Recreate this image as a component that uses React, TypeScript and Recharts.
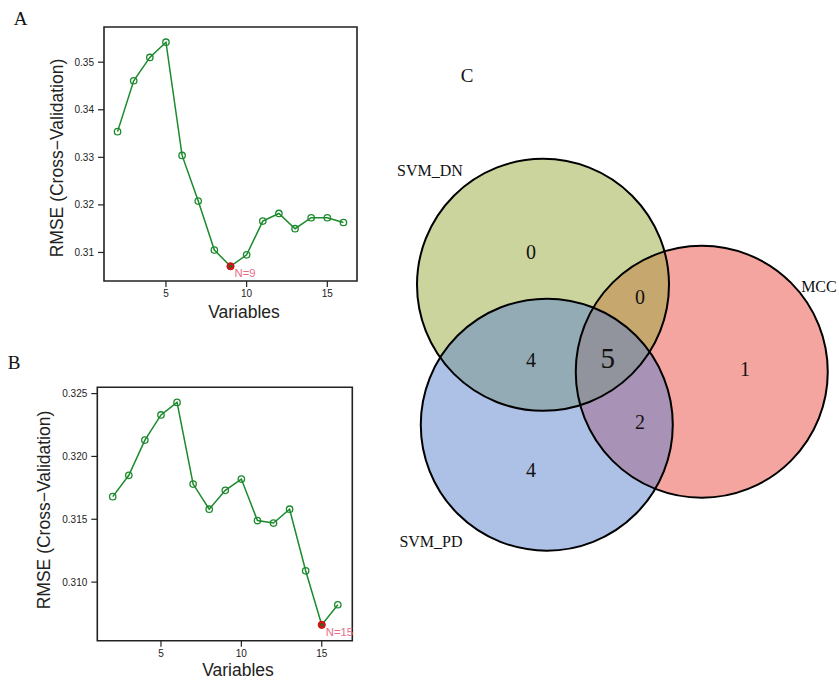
import {
  LineChart,
  Line,
  XAxis,
  YAxis,
  ReferenceArea,
  Label,
  ScatterChart,
  Scatter,
} from 'recharts';

// Panel A / B: RMSE of cross-validation vs number of variables
const variables = [2, 3, 4, 5, 6, 7, 8, 9, 10, 11, 12, 13, 14, 15, 16];
const rmseA = [
  0.3354, 0.3461, 0.351, 0.3542, 0.3304, 0.3208, 0.3105, 0.3071, 0.3095, 0.3166,
  0.3182, 0.315, 0.3173, 0.3173, 0.3163,
];
const rmseB = [
  0.3168, 0.3185, 0.3213, 0.3233, 0.3243, 0.3178, 0.3158, 0.3173, 0.3182, 0.3149,
  0.3147, 0.3158, 0.3109, 0.3066, 0.3082,
];
const yTicksA = [0.31, 0.32, 0.33, 0.34, 0.35];
const yTicksB = [0.31, 0.315, 0.32, 0.325];
const xTicks = [5, 10, 15];

// Panel C: Venn diagram (sets in drawing order)
const vennSets = ['MCC', 'SVM_DN', 'SVM_PD'];
const vennX = [1.26, 0, 0.03];
const vennY = [-0.69, 0, -1.11];
const vennR = [1, 1, 1];
const vennColors = ['#e94b41', '#97a939', '#5b81cd'];
const vennNameX = [2.19, -0.897, -0.889];
const vennNameY = [-0.01, 0.909, -2.04];
const regionSets = [
  'SVM_DN',
  'SVM_DN&MCC',
  'SVM_DN&SVM_PD',
  'SVM_DN&SVM_PD&MCC',
  'MCC',
  'SVM_PD&MCC',
  'SVM_PD',
];
const regionCounts = [0, 0, 4, 5, 1, 2, 4];
const regionX = [-0.095, 0.77, -0.095, 0.513, 1.603, 0.77, -0.095];
const regionY = [0.263, -0.1, -0.597, -0.583, -0.671, -1.091, -1.47];

const SANS = '"Liberation Sans", Arial, sans-serif';
const SERIF = '"Liberation Serif", "Times New Roman", serif';
const GREEN = '#1b8a2c';
const INK = '#222';

type PanelProps = {
  rmse: number[];
  yTicks: number[];
  yDomain: [number, number];
  xDomain: [number, number];
  digits: number;
  top: number;
  width: number;
  height: number;
  margin: { top: number; right: number; left: number; bottom: number };
  xAxisHeight: number;
  yLabelPos: [number, number];
  xLabelPos: [number, number];
};

const CvPanel = ({
  rmse,
  yTicks,
  yDomain,
  xDomain,
  digits,
  top,
  width,
  height,
  margin,
  xAxisHeight,
  yLabelPos,
  xLabelPos,
}: PanelProps) => {
  const data = variables.map((v, i) => ({ x: v, rmse: rmse[i] }));
  const best = rmse.indexOf(Math.min(...rmse));

  const renderDot = (p: any) => {
    const { cx, cy, index } = p;
    if (index === best) {
      return (
        <g key={`dot-${index}`}>
          <circle cx={cx} cy={cy} r={3.6} fill="#d01818" stroke="#c81010" strokeWidth={1} />
          <circle cx={cx} cy={cy} r={1.5} fill="#1b6f28" />
          <text
            x={cx + 4}
            y={cy + 7}
            fill="#ea6d86"
            fontSize={11.3}
            fontFamily={SANS}
            dominantBaseline="central"
          >
            {`N=${variables[best]}`}
          </text>
        </g>
      );
    }
    return (
      <circle
        key={`dot-${index}`}
        cx={cx}
        cy={cy}
        r={3.2}
        fill="none"
        stroke={GREEN}
        strokeWidth={1.3}
      />
    );
  };

  return (
    <div style={{ position: 'absolute', left: 0, top }}>
      <LineChart width={width} height={height} data={data} margin={margin}>
        <XAxis
          dataKey="x"
          type="number"
          domain={xDomain}
          ticks={xTicks}
          height={xAxisHeight}
          axisLine={false}
          tickLine={{ stroke: INK, strokeWidth: 1.2 }}
          tickSize={6}
          tickMargin={3}
          tick={{ fill: INK, fontSize: 10, fontFamily: SANS }}
        >
          <Label
            content={() => (
              <text
                x={xLabelPos[0]}
                y={xLabelPos[1]}
                textAnchor="middle"
                dominantBaseline="central"
                fontSize={17.5}
                fontFamily={SANS}
                fill={INK}
              >
                Variables
              </text>
            )}
          />
        </XAxis>
        <YAxis
          type="number"
          domain={yDomain}
          ticks={yTicks}
          width={60}
          axisLine={false}
          tickLine={{ stroke: INK, strokeWidth: 1.2 }}
          tickSize={6}
          tickMargin={4}
          tickFormatter={(v: number) => v.toFixed(digits)}
          tick={{ fill: INK, fontSize: 10, fontFamily: SANS }}
        >
          <Label
            content={() => (
              <text
                x={yLabelPos[0]}
                y={yLabelPos[1]}
                transform={`rotate(-90, ${yLabelPos[0]}, ${yLabelPos[1]})`}
                textAnchor="middle"
                dominantBaseline="central"
                fontSize={17.5}
                fontFamily={SANS}
                fill={INK}
              >
                RMSE (Cross−Validation)
              </text>
            )}
          />
        </YAxis>
        <ReferenceArea
          x1={xDomain[0]}
          x2={xDomain[1]}
          y1={yDomain[0]}
          y2={yDomain[1]}
          fill="none"
          stroke={INK}
          strokeWidth={1.6}
          ifOverflow="visible"
        />
        <Line
          type="linear"
          dataKey="rmse"
          stroke={GREEN}
          strokeWidth={1.5}
          dot={renderDot}
          activeDot={false}
          isAnimationActive={false}
        />
      </LineChart>
    </div>
  );
};

// Venn panel: 1 data unit = VPX pixels on both axes
const VPX = 126;
const vxDomain: [number, number] = [-1.4, 2.3];
const vyDomain: [number, number] = [-2.2, 1.2];
const V_W = 479;
const V_H = 520;
const vMargin = {
  left: 6.6,
  right: V_W - 6.6 - (vxDomain[1] - vxDomain[0]) * VPX,
  top: 73.6,
  bottom: V_H - 73.6 - (vyDomain[1] - vyDomain[0]) * VPX,
};

const VennPanel = () => {
  const circles = vennSets.map((name, i) => ({
    name,
    x: vennX[i],
    y: vennY[i],
    r: vennR[i],
    color: vennColors[i],
  }));
  const names = vennSets.map((name, i) => ({ name, x: vennNameX[i], y: vennNameY[i] }));
  const regions = regionSets.map((key, i) => ({
    key,
    count: regionCounts[i],
    x: regionX[i],
    y: regionY[i],
    depth: key.split('&').length,
  }));

  return (
    <div style={{ position: 'absolute', left: 360, top: 60 }}>
      <ScatterChart width={V_W} height={V_H} margin={vMargin}>
        <XAxis type="number" dataKey="x" domain={vxDomain} hide />
        <YAxis type="number" dataKey="y" domain={vyDomain} hide />
        <Scatter
          data={circles}
          isAnimationActive={false}
          shape={(p: any) => (
            <circle
              cx={p.cx}
              cy={p.cy}
              r={p.payload.r * VPX}
              fill={p.payload.color}
              fillOpacity={0.5}
              stroke="none"
            />
          )}
        />
        <Scatter
          data={circles}
          isAnimationActive={false}
          shape={(p: any) => (
            <circle
              cx={p.cx}
              cy={p.cy}
              r={p.payload.r * VPX}
              fill="none"
              stroke="#000"
              strokeWidth={2}
            />
          )}
        />
        <Scatter
          data={regions}
          isAnimationActive={false}
          shape={(p: any) => (
            <text
              x={p.cx}
              y={p.cy}
              textAnchor="middle"
              dominantBaseline="central"
              fontSize={p.payload.depth === 3 ? 29 : 20}
              fontFamily={SERIF}
              fill="#111"
            >
              {p.payload.count}
            </text>
          )}
        />
        <Scatter
          data={names}
          isAnimationActive={false}
          shape={(p: any) => (
            <text
              x={p.cx}
              y={p.cy}
              textAnchor="middle"
              dominantBaseline="central"
              fontSize={16}
              fontFamily={SERIF}
              fill="#111"
            >
              {p.payload.name}
            </text>
          )}
        />
      </ScatterChart>
    </div>
  );
};

const App = () => {
  return (
    <div
      style={{
        position: 'absolute',
        left: 0,
        top: 0,
        width: 839,
        height: 681,
        background: '#fff',
        overflow: 'hidden',
      }}
    >
      <CvPanel
        rmse={rmseA}
        yTicks={yTicksA}
        yDomain={[0.304, 0.3574]}
        xDomain={[1.16, 16.84]}
        digits={2}
        top={0}
        width={370}
        height={330}
        margin={{ top: 27, right: 13, left: 44, bottom: 0 }}
        xAxisHeight={49}
        yLabelPos={[57, 158]}
        xLabelPos={[244, 311.7]}
      />
      <CvPanel
        rmse={rmseB}
        yTicks={yTicksB}
        yDomain={[0.30534, 0.3255]}
        xDomain={[1.04, 16.9]}
        digits={3}
        top={330}
        width={370}
        height={351}
        margin={{ top: 57.3, right: 17.7, left: 37.3, bottom: 0 }}
        xAxisHeight={40.3}
        yLabelPos={[44, 180]}
        xLabelPos={[238, 340]}
      />
      <VennPanel />
      <svg
        width={839}
        height={681}
        style={{ position: 'absolute', left: 0, top: 0, pointerEvents: 'none' }}
      >
        <text x={20.5} y={18.5} textAnchor="middle" dominantBaseline="central" fontSize={19} fontFamily={SERIF} fill="#111">
          A
        </text>
        <text x={14} y={362.5} textAnchor="middle" dominantBaseline="central" fontSize={19} fontFamily={SERIF} fill="#111">
          B
        </text>
        <text x={467} y={75} textAnchor="middle" dominantBaseline="central" fontSize={19} fontFamily={SERIF} fill="#111">
          C
        </text>
      </svg>
    </div>
  );
};

export default App;
